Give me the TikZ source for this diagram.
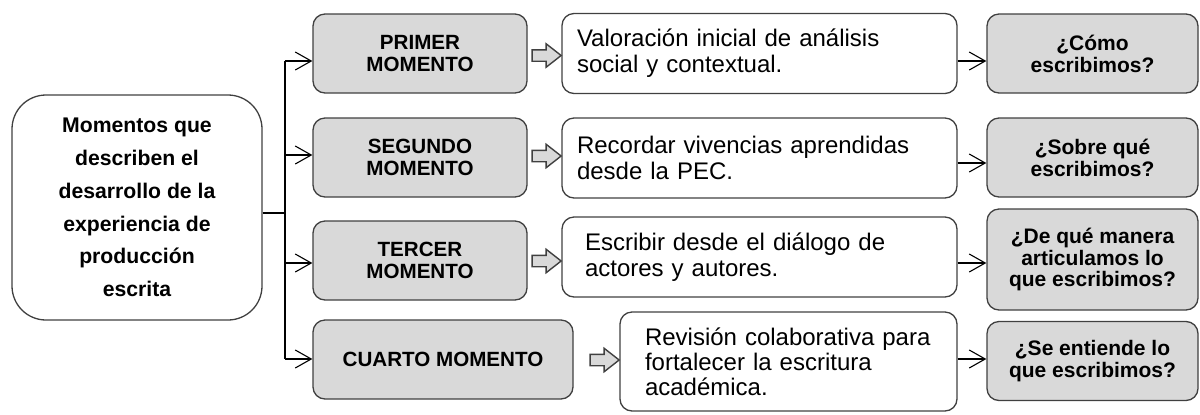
\documentclass[tikz,border=0pt]{standalone}
\usepackage{fontspec}
\setmainfont{Liberation Sans}
\usetikzlibrary{arrows.meta,shapes.arrows}

\definecolor{boxgray}{HTML}{D9D9D9}
\definecolor{edgegray}{HTML}{404040}

\tikzset{
  base/.style={draw=edgegray, line width=0.65pt, rounded corners=6pt, inner sep=0pt},
  mainbox/.style={base, rounded corners=17pt, minimum width=125pt, minimum height=112.5pt,
    align=center, font=\bfseries\fontsize{10.6}{16.4}\selectfont},
  momento/.style={base, fill=boxgray, minimum width=107pt, minimum height=39.5pt,
    align=center, font=\bfseries\fontsize{10.3}{11}\selectfont},
  texto/.style={base, minimum height=40pt, align=left,
    font=\fontsize{12}{13}\selectfont},
  pregunta/.style={base, fill=boxgray, minimum width=105.5pt, minimum height=39.5pt,
    align=center, font=\bfseries\fontsize{10.5}{10.9}\selectfont},
  flecha/.style={single arrow, draw=edgegray, fill=boxgray, line width=0.7pt,
    minimum height=14.5pt, inner xsep=0pt, inner ysep=2.5pt,
    single arrow head extend=3pt, single arrow tip angle=76},
  conn/.style={line width=0.55pt, -{Straight Barb[length=8pt,width=9pt,line width=0.55pt]}}
}

\begin{document}
\begin{tikzpicture}[x=0.5pt,y=-0.5pt]
  \useasboundingbox (0,0) rectangle (1200,414);

  % main box on the left
  \node[mainbox] (main) at (137,207.5)
    {Momentos que\\describen el\\desarrollo de la\\experiencia de\\producción\\escrita};

  % the four moments
  \node[momento] (m1) at (420,53.5) {PRIMER\\MOMENTO};
  \node[momento] (m2) at (420,157.5) {SEGUNDO\\MOMENTO};
  \node[momento] (m3) at (420,260.5) {TERCER\\MOMENTO};
  \node[momento, minimum width=130pt] (m4) at (443,359.5) {CUARTO MOMENTO};

  % block arrows
  \node[flecha] (a1) at (543,55.5) {};
  \node[flecha] (a2) at (543,156) {};
  \node[flecha] (a3) at (543,261) {};
  \node[flecha] (a4) at (601,360) {};

  % descriptions
  \node[texto, inner xsep=7.5pt, text width=182.5pt] (d1) at (759.5,53.5)
    {Valoración inicial de análisis\\social y contextual.};
  \node[texto, inner xsep=7.5pt, text width=182.5pt] (d2) at (759.5,158)
    {Recordar vivencias aprendidas\\desde la PEC.};
  \node[texto, inner xsep=11.5pt, text width=174.5pt] (d3) at (759.5,257)
    {Escribir desde el diálogo de\\actores y autores.};
  \node[texto, inner xsep=12.5pt, text width=143.5pt, minimum height=49.5pt,
    font=\fontsize{12}{12.5}\selectfont] (d4) at (788.5,361.5)
    {Revisión colaborativa para\\fortalecer la escritura\\académica.};

  % questions
  \node[pregunta] (q1) at (1092.5,53.5) {¿Cómo\\escribimos?};
  \node[pregunta] (q2) at (1092.5,157.5) {¿Sobre qué\\escribimos?};
  \node[pregunta, minimum height=50.5pt] (q3) at (1092.5,259.5)
    {¿De qué manera\\articulamos lo\\que escribimos?};
  \node[pregunta] (q4) at (1092.5,361) {¿Se entiende lo\\que escribimos?};

  % branching lines
  \coordinate (stem) at (285,213);
  \foreach \i/\y in {1/61,2/155,3/263,4/359}
    \coordinate (b\i) at (285,\y);
  \draw[line width=0.55pt] (stem -| main.east) -- (stem);
  \draw[line width=0.55pt] (b1) -- (b4);
  \foreach \i in {1,...,4}
    \draw[conn] (b\i) -- (b\i -| m\i.west);

  % descriptions to questions
  \foreach \i/\y in {1/61,2/163,3/263,4/359} {
    \coordinate (c\i) at (0,\y);
    \draw[conn] (d\i.east |- c\i) -- (q\i.west |- c\i);
  }
\end{tikzpicture}
\end{document}
